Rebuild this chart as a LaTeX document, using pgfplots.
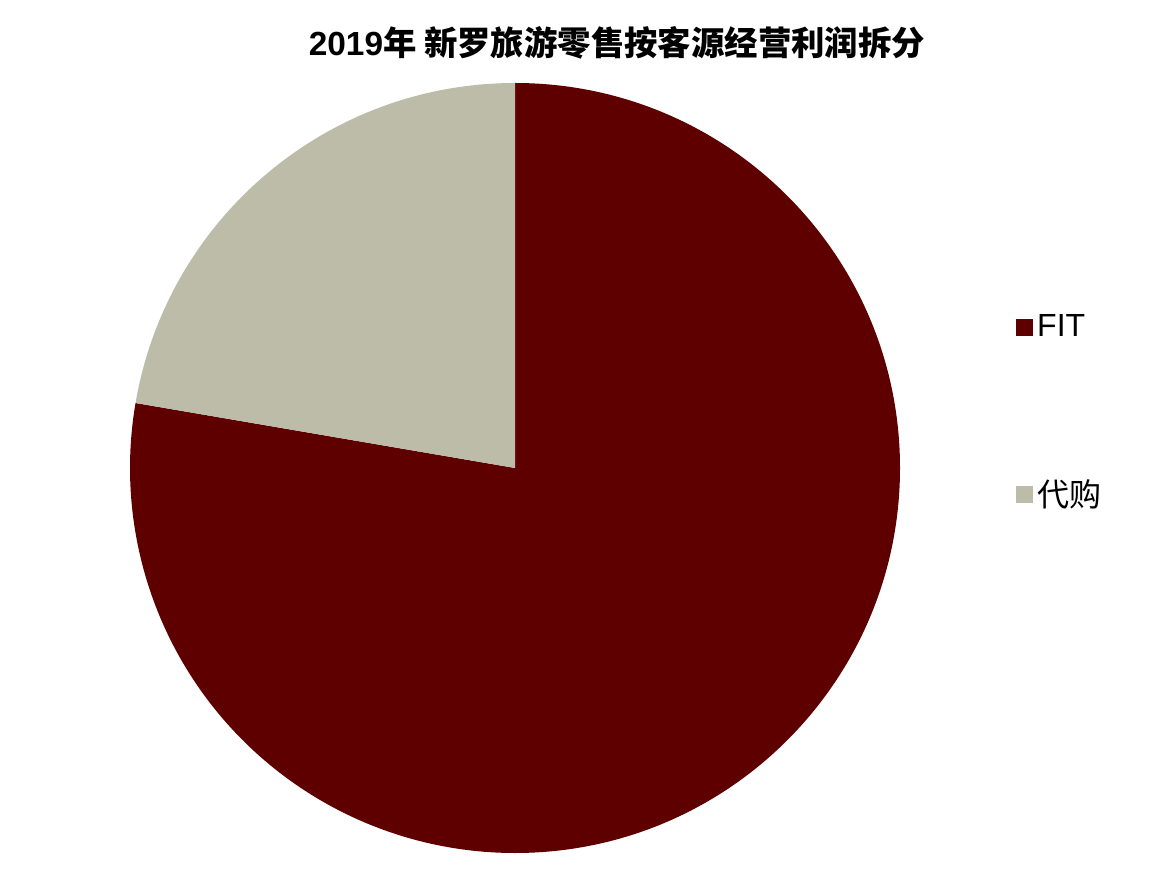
\documentclass[border=0pt]{standalone}
\usepackage{fontspec}
\setmainfont{Liberation Sans}
\newfontfamily\cjk{Noto Sans CJK SC}
\usepackage{pgfplots}
\usepackage{pgfplotstable}
\pgfplotsset{compat=1.18}

\definecolor{fitred}{HTML}{5E0000}
\definecolor{dgrey}{HTML}{BCBCA9}

% share of operating profit by customer source, percent
\pgfplotstableread{
value
77.7
22.3
}\piedata

\begin{document}
\begin{tikzpicture}
\pgfplotstablegetelem{0}{value}\of\piedata \let\vFIT\pgfplotsretval
\pgfplotstablegetelem{1}{value}\of\piedata \let\vDG\pgfplotsretval
\begin{axis}[
    scale only axis,
    width=586pt, height=442pt,
    xmin=0, xmax=1172, ymin=0, ymax=884,
    hide axis, clip=false,
    legend style={draw=none, fill=none, at={(axis cs:1010,578)}, anchor=north west,
        font=\fontsize{16}{19}\selectfont, row sep=66pt,
        /tikz/every even column/.append style={column sep=5pt}},
    legend cell align=left,
    legend image code/.code={\fill[#1] (0pt,-4pt) rectangle (8pt,4pt);},
]
\path (axis cs:0,0) rectangle (axis cs:1172,884);
\addlegendimage{fitred}
\addlegendentry{FIT}
\addlegendimage{dgrey}
\addlegendentry{\cjk 代购}

\pgfmathsetmacro\aFIT{90-3.6*\vFIT}
\pgfmathsetmacro\aDG{\aFIT-3.6*\vDG}
\fill[fitred] (axis cs:515,416) -- ++(90:192.5pt) arc[start angle=90, end angle=\aFIT, radius=192.5pt] -- cycle;
\fill[dgrey] (axis cs:515,416) -- ++(\aFIT:192.5pt) arc[start angle=\aFIT, end angle=\aDG, radius=192.5pt] -- cycle;

\node[font=\fontsize{16.7}{19}\selectfont\bfseries] at (axis cs:617,841)
    {2019\cjk 年 新罗旅游零售按客源经营利润拆分};
\end{axis}
\end{tikzpicture}
\end{document}
